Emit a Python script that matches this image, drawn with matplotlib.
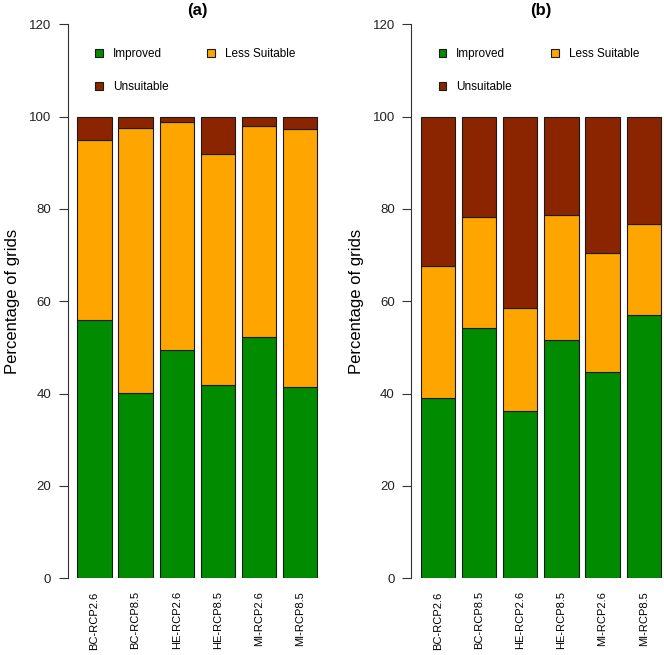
import numpy as np
import matplotlib
matplotlib.use('Agg')
import matplotlib.pyplot as plt
from matplotlib.patches import Patch

plt.rcParams['font.family'] = ['Liberation Sans', 'DejaVu Sans']

scenarios = ['BC-RCP2.6', 'BC-RCP8.5', 'HE-RCP2.6', 'HE-RCP8.5', 'MI-RCP2.6', 'MI-RCP8.5']
classes = ['Improved', 'Less Suitable', 'Unsuitable']
colors = ['#008B00', '#FFA500', '#8B2500']

# panel (a)
a_improved = [55.9, 40.2, 49.5, 41.9, 52.2, 41.4]
a_less = [39.0, 57.3, 49.3, 50.0, 45.7, 56.0]
a_unsuitable = [5.1, 2.5, 1.2, 8.1, 2.1, 2.6]

# panel (b)
b_improved = [39.1, 54.1, 36.2, 51.6, 44.7, 57.0]
b_less = [28.5, 24.2, 22.3, 27.2, 25.7, 19.7]
b_unsuitable = [32.4, 21.7, 41.5, 21.2, 29.6, 23.3]

fig = plt.figure(figsize=(6.64, 6.55), dpi=100)
ax_a = fig.add_axes([0.102, 0.1173, 0.390, 0.8455])
ax_b = fig.add_axes([0.6196, 0.1173, 0.390, 0.8455])


def draw_panel(ax, series, title):
    x = 0.7 + 1.2 * np.arange(len(scenarios))
    bottom = np.zeros(len(scenarios))
    for vals, col in zip(series, colors):
        ax.bar(x, vals, width=1.0, bottom=bottom, color=col,
               edgecolor='#1a1a1a', linewidth=0.8)
        bottom += np.array(vals)
    ax.set_xlim(-0.08, 7.48)
    ax.set_ylim(0, 120)
    ax.set_yticks(range(0, 121, 20))
    ax.set_xticks(x)
    ax.set_xticklabels(scenarios, rotation=90, fontsize=8, va='top')
    ax.tick_params(axis='x', length=0, pad=9.5)
    ax.tick_params(axis='y', length=6.5, width=0.8, pad=5.5, labelsize=9.5,
                   color='#333333', labelcolor='#222222')
    for s in ['top', 'right', 'bottom']:
        ax.spines[s].set_visible(False)
    ax.spines['left'].set_color('#333333')
    ax.spines['left'].set_linewidth(0.8)
    ax.spines['left'].set_bounds(0, 120)
    ax.set_ylabel('Percentage of grids', fontsize=12, labelpad=6)
    ax.set_title(title, fontsize=12, fontweight='bold', pad=6.5)

    handles = [Patch(facecolor=colors[0], edgecolor='#1a1a1a', linewidth=0.8),
               Patch(facecolor=colors[2], edgecolor='#1a1a1a', linewidth=0.8),
               Patch(facecolor=colors[1], edgecolor='#1a1a1a', linewidth=0.8)]
    labels = [classes[0], classes[2], classes[1]]
    ax.legend(handles, labels, ncol=2, loc='upper left',
              bbox_to_anchor=(0.105, 0.957), frameon=False, fontsize=8.5,
              handlelength=0.65, handleheight=0.65, handletextpad=0.85,
              labelspacing=1.75, columnspacing=3.3, borderpad=0,
              borderaxespad=0)


draw_panel(ax_a, [a_improved, a_less, a_unsuitable], '(a)')
draw_panel(ax_b, [b_improved, b_less, b_unsuitable], '(b)')

fig.savefig('out.png', dpi=100)
